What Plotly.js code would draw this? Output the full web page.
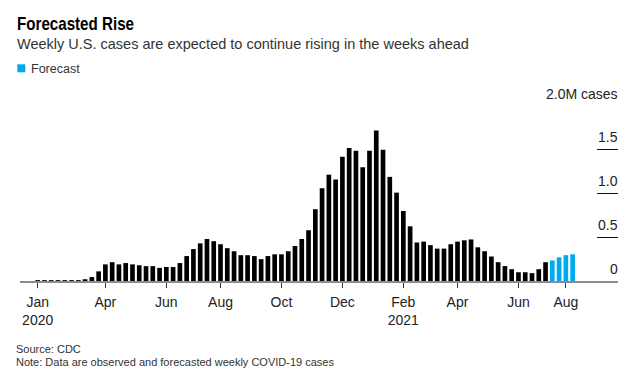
<!DOCTYPE html>
<html>
<head>
<meta charset="utf-8">
<script src="https://cdn.plot.ly/plotly-3.0.1.min.js"></script>
<style>html,body{margin:0;padding:0;background:#fff;}#chart{width:635px;height:380px;}</style>
</head>
<body>
<div id="chart"></div>
<script>
// Weekly U.S. COVID-19 cases (millions), one bar per week starting late Jan 2020
const observedCases = [
  0.01, 0.01, 0.01, 0.01, 0.01, 0.01, 0.01, 0.02,
  0.045, 0.11, 0.19, 0.215, 0.19, 0.205, 0.19, 0.18, 0.17, 0.17, 0.15, 0.16, 0.16,
  0.205, 0.285, 0.365, 0.43, 0.48, 0.455, 0.42, 0.375, 0.34, 0.295, 0.295, 0.285, 0.25, 0.285, 0.305,
  0.305, 0.34, 0.40, 0.48, 0.58, 0.82,
  1.06, 1.215, 1.16, 1.42, 1.52, 1.49, 1.30, 1.49, 1.72, 1.50, 1.19, 1.01, 0.80, 0.625,
  0.44, 0.45, 0.41, 0.37, 0.37, 0.42, 0.45, 0.465, 0.475, 0.385, 0.34, 0.28, 0.215, 0.17,
  0.135, 0.10, 0.10, 0.09, 0.135, 0.215
];
const forecastCases = [0.235, 0.27, 0.295, 0.305];

// x tick positions (week index) and their labels
const tickWeeks = [0, 10, 19, 27, 36, 45, 54, 62, 71, 78];
const tickLabels = ['Jan<br>2020', 'Apr', 'Jun', 'Aug', 'Oct', 'Dec', 'Feb<br>2021', 'Apr', 'Jun', 'Aug'];

// y ticks
const yTickVals = [0, 0.5, 1, 1.5, 2];
const yTickLabels = ['0', '0.5', '1.0', '1.5', '2.0M cases'];

const observedWeeks = observedCases.map((_, i) => i);
const forecastWeeks = forecastCases.map((_, i) => observedCases.length + i);

const FONT = 'Liberation Sans, Arial, sans-serif';
const BLUE = '#00aaf0';

const traces = [
  {type: 'bar', x: observedWeeks, y: observedCases, marker: {color: '#000000', line: {width: 0}}, name: 'Observed', hoverinfo: 'skip'},
  {type: 'bar', x: forecastWeeks, y: forecastCases, marker: {color: BLUE, line: {width: 0}}, name: 'Forecast', hoverinfo: 'skip'}
];

// plot area in px: left 20, right 618, top 106, bottom 281
const L = 20, W = 598, T = 106, H = 175;
const px = v => (v - L) / W;
const py = v => (T + H - v) / H;

const annotations = [
  {text: 'Forecasted Rise', x: px(14.5), y: py(23), xanchor: 'left', yanchor: 'middle', align: 'left',
   font: {family: FONT, size: 18.5, weight: 'bold', color: '#000'}},
  {text: 'Weekly U.S. cases are expected to continue rising in the weeks ahead', x: px(14.5), y: py(44), xanchor: 'left', yanchor: 'middle',
   font: {family: FONT, size: 14.5, color: '#333'}},
  {text: 'Forecast', x: px(28.5), y: py(68.5), xanchor: 'left', yanchor: 'middle',
   font: {family: FONT, size: 12.5, color: '#333'}},
  {text: 'Source: CDC', x: px(14), y: py(348.5), xanchor: 'left', yanchor: 'middle',
   font: {family: FONT, size: 11, color: '#333'}},
  {text: 'Note: Data are observed and forecasted weekly COVID-19 cases', x: px(14), y: py(362), xanchor: 'left', yanchor: 'middle',
   font: {family: FONT, size: 11, color: '#333'}}
];
yTickVals.forEach((v, i) => {
  annotations.push({text: yTickLabels[i], xref: 'paper', yref: 'y', x: 1, y: v, xanchor: 'right', yanchor: 'middle',
    xshift: 1.5, yshift: 12.5, font: {family: FONT, size: 14, color: '#222'}});
});
annotations.forEach(a => { a.showarrow = false; if (!a.xref) a.xref = 'paper'; if (!a.yref) a.yref = 'paper'; });

const layout = {
  width: 635, height: 380,
  margin: {l: L, r: 635 - L - W, t: T, b: 380 - T - H, pad: 0},
  paper_bgcolor: '#ffffff', plot_bgcolor: '#ffffff',
  showlegend: false,
  barmode: 'overlay', bargap: 0.31,
  xaxis: {
    range: [-2.61, 85.7], tickmode: 'array', tickvals: tickWeeks, ticktext: tickLabels,
    ticks: 'outside', ticklen: 5, tickwidth: 1, tickcolor: '#333',
    showline: true, linecolor: '#8c8c8c', linewidth: 2,
    showgrid: false, zeroline: false, ticklabelstandoff: 2,
    tickfont: {family: FONT, size: 14, color: '#222'}
  },
  yaxis: {
    range: [0, 2], side: 'right', tickmode: 'array', tickvals: yTickVals.slice(1),
    ticks: 'inside', ticklen: 21, tickwidth: 1, tickcolor: '#111',
    showticklabels: false, showgrid: false, zeroline: false, showline: false
  },
  shapes: [
    {type: 'rect', xref: 'paper', yref: 'paper', x0: px(17.3), x1: px(25.3), y0: py(72.3), y1: py(64.3),
     fillcolor: BLUE, line: {width: 0}}
  ],
  annotations: annotations
};

Plotly.newPlot('chart', traces, layout, {displayModeBar: false, staticPlot: true}).then(gd => {
  // condense the headline to match the narrow headline face of the original
  const t = gd.querySelector('.annotation[data-index="0"] text.annotation-text');
  if (t) {
    const bb = t.getBBox();
    t.setAttribute('textLength', '117');
    t.setAttribute('lengthAdjust', 'spacingAndGlyphs');
    t.setAttribute('text-anchor', 'start');
    t.setAttribute('x', String(bb.x));
  }
});
</script>
</body>
</html>
